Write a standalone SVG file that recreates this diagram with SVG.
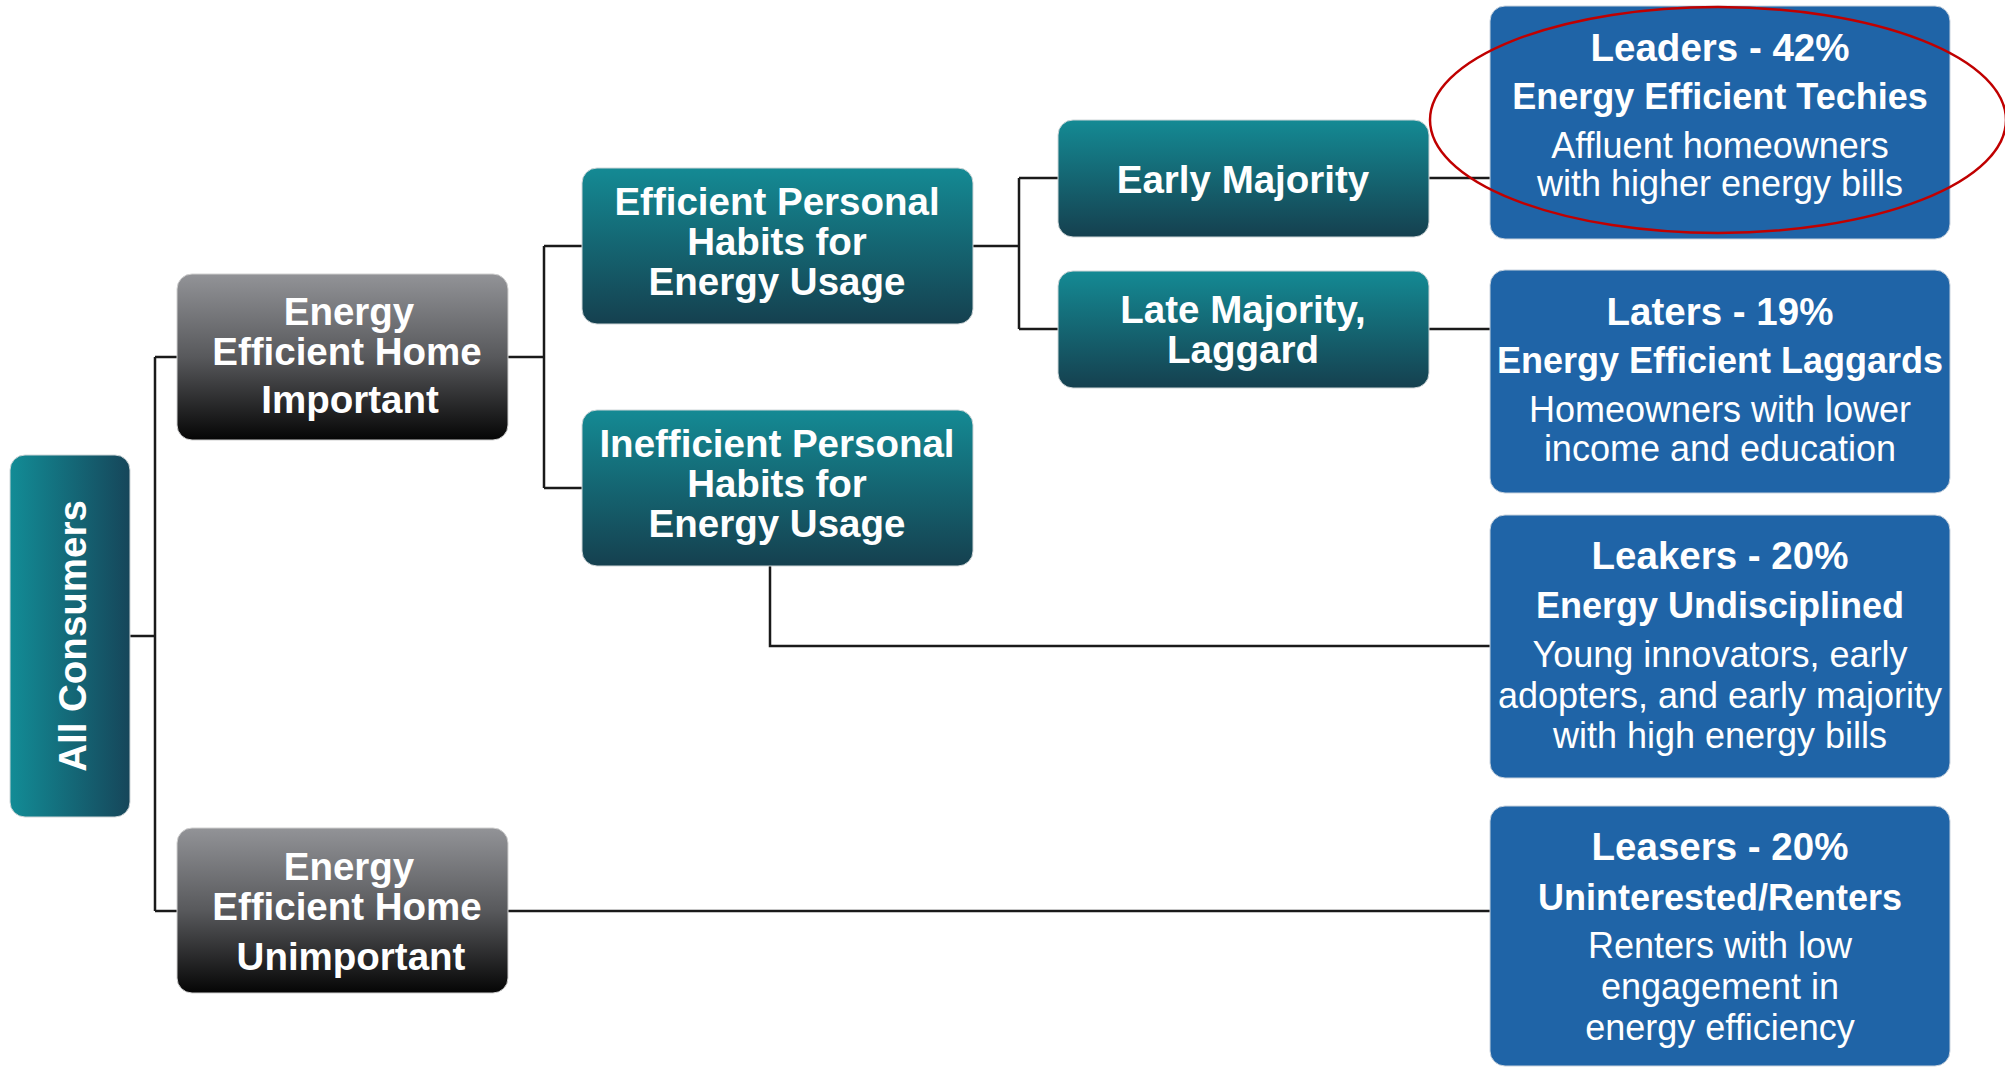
<svg xmlns="http://www.w3.org/2000/svg" width="2005" height="1067" viewBox="0 0 2005 1067">
<defs>
<linearGradient id="gTeal" x1="0" y1="0" x2="0" y2="1">
<stop offset="0" stop-color="#148a94"/>
<stop offset="1" stop-color="#15404f"/>
</linearGradient>
<linearGradient id="gTealH" x1="0" y1="0" x2="1" y2="0">
<stop offset="0" stop-color="#128c96"/>
<stop offset="1" stop-color="#16465a"/>
</linearGradient>
<linearGradient id="gGrey" x1="0" y1="0" x2="0" y2="1">
<stop offset="0" stop-color="#929397"/>
<stop offset="0.5" stop-color="#58595c"/>
<stop offset="1" stop-color="#050505"/>
</linearGradient>
<style>
.teal{fill:url(#gTeal);stroke:#cfd6d8;stroke-width:1}
.tealh{fill:url(#gTealH);stroke:#cfd6d8;stroke-width:1}
.grey{fill:url(#gGrey);stroke:#d0d0d0;stroke-width:1}
.blue{fill:#1f64a7;stroke:#c9d3de;stroke-width:1}
.t{font-family:"Liberation Sans",Arial,sans-serif;fill:#ffffff;text-anchor:middle}
.b{font-weight:bold}
.s37{font-size:38.5px}
.s38{font-size:38.5px}
.s35{font-size:36px}
.conn{fill:none;stroke:#1a1a1a;stroke-width:2.5}
</style>
</defs>
<rect width="2005" height="1067" fill="#ffffff"/>
<g id="connectors" class="conn">
<path d="M130 636 H155 M155 357 V911 M155 357 H177 M155 911 H177"/>
<path d="M508 357 H544 M544 246 V488 M544 246 H582 M544 488 H582"/>
<path d="M973 246 H1019 M1019 178 V329 M1019 178 H1058 M1019 329 H1058"/>
<path d="M1429 178 H1490 M1429 329 H1490"/>
<path d="M770 566 V646 H1490"/>
<path d="M508 911 H1490"/>
</g>
<g id="all-consumers">
<rect class="tealh" x="10" y="455" width="120" height="362" rx="15"/>
<text class="t b s37" transform="translate(86,636) rotate(-90)">All Consumers</text>
</g>
<g id="home-important">
<rect class="grey" x="177" y="274" width="331" height="166" rx="15"/>
<text class="t b s37" x="349" y="325">Energy</text>
<text class="t b s37" x="347" y="365">Efficient Home</text>
<text class="t b s37" x="350" y="413">Important</text>
</g>
<g id="home-unimportant">
<rect class="grey" x="177" y="828" width="331" height="165" rx="15"/>
<text class="t b s37" x="349" y="880">Energy</text>
<text class="t b s37" x="347" y="920">Efficient Home</text>
<text class="t b s37" x="351" y="970">Unimportant</text>
</g>
<g id="efficient-habits">
<rect class="teal" x="582" y="168" width="391" height="156" rx="15"/>
<text class="t b s37" x="777" y="215">Efficient Personal</text>
<text class="t b s37" x="777" y="255">Habits for</text>
<text class="t b s37" x="777" y="295">Energy Usage</text>
</g>
<g id="inefficient-habits">
<rect class="teal" x="582" y="410" width="391" height="156" rx="15"/>
<text class="t b s37" x="777" y="457">Inefficient Personal</text>
<text class="t b s37" x="777" y="497">Habits for</text>
<text class="t b s37" x="777" y="537">Energy Usage</text>
</g>
<g id="early-majority">
<rect class="teal" x="1058" y="120" width="371" height="117" rx="15"/>
<text class="t b s37" x="1243" y="193">Early Majority</text>
</g>
<g id="late-majority">
<rect class="teal" x="1058" y="271" width="371" height="117" rx="15"/>
<text class="t b s37" x="1243" y="323">Late Majority,</text>
<text class="t b s37" x="1243" y="363">Laggard</text>
</g>
<g id="leaders">
<rect class="blue" x="1490" y="6" width="460" height="233" rx="15"/>
<text class="t b s38" x="1720" y="61">Leaders - 42%</text>
<text class="t b s35" x="1720" y="109">Energy Efficient Techies</text>
<text class="t s35" x="1720" y="158">Affluent homeowners</text>
<text class="t s35" x="1720" y="196">with higher energy bills</text>
</g>
<g id="laters">
<rect class="blue" x="1490" y="270" width="460" height="223" rx="15"/>
<text class="t b s38" x="1720" y="325">Laters - 19%</text>
<text class="t b s35" x="1720" y="373">Energy Efficient Laggards</text>
<text class="t s35" x="1720" y="422">Homeowners with lower</text>
<text class="t s35" x="1720" y="461">income and education</text>
</g>
<g id="leakers">
<rect class="blue" x="1490" y="515" width="460" height="263" rx="15"/>
<text class="t b s38" x="1720" y="569">Leakers - 20%</text>
<text class="t b s35" x="1720" y="618">Energy Undisciplined</text>
<text class="t s35" x="1720" y="667">Young innovators, early</text>
<text class="t s35" x="1720" y="708">adopters, and early majority</text>
<text class="t s35" x="1720" y="748">with high energy bills</text>
</g>
<g id="leasers">
<rect class="blue" x="1490" y="806" width="460" height="260" rx="15"/>
<text class="t b s38" x="1720" y="860">Leasers - 20%</text>
<text class="t b s35" x="1720" y="910">Uninterested/Renters</text>
<text class="t s35" x="1720" y="958">Renters with low</text>
<text class="t s35" x="1720" y="999">engagement in</text>
<text class="t s35" x="1720" y="1040">energy efficiency</text>
</g>
<g id="highlight">
<ellipse cx="1718" cy="120" rx="288" ry="113" fill="none" stroke="#c00000" stroke-width="2.5"/>
</g>
</svg>
